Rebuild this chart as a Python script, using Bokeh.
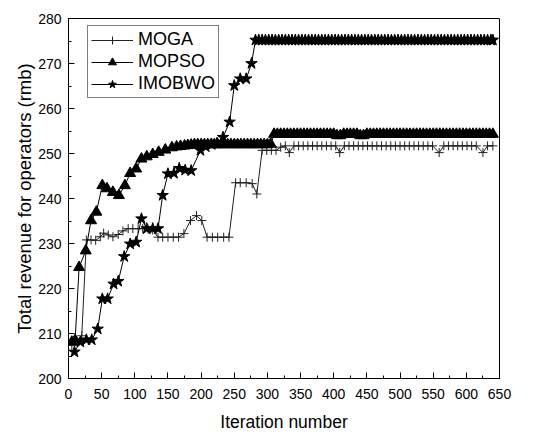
from bokeh.plotting import figure
from bokeh.models import SingleIntervalTicker, Range1d, Legend, LegendItem
from bokeh.embed import file_html
from bokeh.resources import INLINE

# ---------------- data ----------------
moga_x = [5, 12, 20, 27, 34, 41, 48, 53, 60, 67, 75, 82, 90, 97, 105, 112, 120, 127,
          135, 142, 150, 158, 166, 174, 184, 193, 201, 209, 217, 225, 234, 242,
          252, 259, 268, 277, 284, 292, 299, 306, 313, 320, 327, 333, 340, 347, 354,
          361, 368, 375, 382, 389, 396, 403, 409, 416, 423, 430, 437, 444, 451, 458,
          465, 472, 479, 486, 493, 500, 507, 514, 521, 528, 535, 542, 549, 559, 566,
          573, 580, 587, 594, 601, 608, 615, 625, 632, 640]
moga_y = [207.5, 208.5, 209.5, 230.8, 230.8, 230.7, 231.5, 232.3, 231.9, 231.5, 232.0,
          232.8, 233.3, 233.3, 233.3, 233.3, 233.2, 233.0,
          231.4, 231.4, 231.4, 231.4, 231.4, 232.2, 235.1, 236.2, 235.1, 231.4, 231.4,
          231.4, 231.4, 231.4,
          243.5, 243.5, 243.5, 243.3, 241.0, 250.7, 250.7, 250.7, 250.7, 251.4, 251.7,
          250.2, 251.7, 251.7, 251.7, 251.7, 251.7, 251.7, 251.7, 251.7, 251.7, 251.7,
          250.2, 251.7, 251.7, 251.7, 251.7, 251.7, 251.7, 251.7, 251.7, 251.7, 251.7,
          251.7, 251.7, 251.7, 251.7, 251.7, 251.7, 251.7, 251.7, 251.7, 251.7, 250.2,
          251.7, 251.7, 251.7, 251.7, 251.7, 251.7, 251.7, 251.7, 250.2, 251.7, 251.7]

mopso_x = [5, 10, 16, 26, 34, 42, 51, 58, 67, 76, 85, 93, 102, 110, 118, 127, 136, 146,
           156, 163, 169, 175, 180, 185, 190, 195, 200, 205, 210, 215, 220, 225, 230,
           235, 240, 245, 250, 255, 260, 265, 270, 275, 280, 285, 290, 295, 300, 305,
           310, 315, 320, 325, 330, 335, 340, 345, 350, 355, 360, 365, 370, 375, 380,
           385, 390, 395, 400, 405, 410, 415, 420, 425, 430, 435, 440, 445, 450, 455,
           460, 465, 470, 475, 480, 485, 490, 495, 500, 505, 510, 515, 520, 525, 530,
           535, 540, 545, 550, 555, 560, 565, 570, 575, 580, 585, 590, 595, 600, 605,
           610, 615, 620, 625, 630, 635, 640]
mopso_y = [208.1, 208.5, 224.7, 228.4, 235.1, 237.0, 242.9, 242.2, 241.4, 240.7, 242.9,
           245.6, 246.6, 248.8, 249.3, 249.8, 250.3, 250.8,
           251.3, 251.5, 251.6, 251.7, 251.8, 251.9, 252.0, 252.0, 252.0, 252.0, 252.0,
           252.0, 252.0, 252.0, 252.0, 252.0, 252.0, 252.0, 252.0, 252.0, 252.0, 252.0,
           252.0, 252.0, 252.0, 252.0, 252.0, 252.0, 252.0, 252.1,
           254.3, 254.3, 254.3, 254.3, 254.3, 254.3, 254.3, 254.3, 254.3, 254.3, 254.3,
           254.3, 254.3, 254.3, 254.3, 254.3, 254.3, 254.3, 254.3, 254.0, 254.0, 254.3,
           254.3, 254.3, 254.3, 254.3, 254.0, 254.0, 254.3, 254.3, 254.3, 254.3, 254.3,
           254.3, 254.3, 254.3, 254.3, 254.3, 254.3, 254.3, 254.3, 254.3, 254.3, 254.3,
           254.3, 254.3, 254.3, 254.3, 254.3, 254.3, 254.3, 254.3, 254.3, 254.3, 254.3,
           254.3, 254.3, 254.3, 254.3, 254.3, 254.3, 254.3, 254.3, 254.3, 254.3, 254.3,
           254.3]

imobwo_x = [9, 18, 27, 35, 44, 51, 59, 68, 75, 84, 93, 102, 110, 118, 127, 135, 142, 150,
            159, 167, 176, 185, 199, 207, 216, 224, 233, 243, 250, 259, 268, 276, 282,
            287, 292, 297, 302, 307, 312, 317, 322, 327, 332, 337, 342, 347, 352, 357,
            362, 367, 372, 377, 382, 387, 392, 397, 402, 407, 412, 417, 422, 427, 432,
            437, 442, 447, 452, 457, 462, 467, 472, 477, 482, 487, 492, 497, 502, 507,
            512, 517, 522, 527, 532, 537, 542, 547, 552, 557, 562, 567, 572, 577, 582,
            587, 592, 597, 602, 607, 612, 617, 622, 627, 632, 637, 640]
imobwo_y = [205.9, 208.1, 208.6, 208.6, 211.0, 217.7, 217.7, 221.0, 221.6, 227.1, 229.9,
            230.3, 235.5, 233.3, 233.3, 233.3, 240.7, 245.5, 245.6, 246.7, 246.3, 246.2,
            250.7, 251.5, 252.0, 252.3, 253.6, 257.0, 265.1, 266.6, 266.6, 270.0, 275.2,
            275.2, 275.2, 275.2, 275.2, 275.2, 275.2, 275.2, 275.2, 275.2, 275.2, 275.2,
            275.2, 275.2, 275.2, 275.2, 275.2, 275.2, 275.2, 275.2, 275.2, 275.2, 275.2,
            275.2, 275.2, 275.2, 275.2, 275.2, 275.2, 275.2, 275.2, 275.2, 275.2, 275.2,
            275.2, 275.2, 275.2, 275.2, 275.2, 275.2, 275.2, 275.2, 275.2, 275.2, 275.2,
            275.2, 275.2, 275.2, 275.2, 275.2, 275.2, 275.2, 275.2, 275.2, 275.2, 275.2,
            275.2, 275.2, 275.2, 275.2, 275.2, 275.2, 275.2, 275.2, 275.2, 275.2, 275.2,
            275.2, 275.2, 275.2, 275.2, 275.2, 275.2]

series_names = ["MOGA", "MOPSO", "IMOBWO"]
x_label = "Iteration number"
y_label = "Total revenue for operators (rmb)"

FONT = "Liberation Sans"

p = figure(frame_width=431, frame_height=360,
           min_border_left=68, min_border_right=24, min_border_top=18, min_border_bottom=52,
           x_range=Range1d(0, 650), y_range=Range1d(200, 280),
           output_backend="svg", toolbar_location=None)

p.background_fill_color = "white"
p.border_fill_color = "white"
p.outline_line_color = "black"
p.outline_line_width = 1
p.xgrid.visible = False
p.ygrid.visible = False

p.xaxis.ticker = SingleIntervalTicker(interval=50, num_minor_ticks=2)
p.yaxis.ticker = SingleIntervalTicker(interval=10, num_minor_ticks=2)
for ax in (p.xaxis[0], p.yaxis[0]):
    ax.axis_line_color = "black"
    ax.major_tick_in = 6
    ax.major_tick_out = 0
    ax.minor_tick_in = 3
    ax.minor_tick_out = 0
    ax.major_tick_line_color = "black"
    ax.minor_tick_line_color = "black"
    ax.major_label_text_font = FONT
    ax.major_label_text_font_size = "14px"
    ax.major_label_text_color = "black"
    ax.axis_label_text_font = FONT
    ax.axis_label_text_font_style = "normal"
    ax.axis_label_text_color = "black"

p.xaxis.axis_label = x_label
p.yaxis.axis_label = y_label
p.xaxis.axis_label_text_font_size = "17.5px"
p.yaxis.axis_label_text_font_size = "18.5px"
p.xaxis.major_label_standoff = 10
p.yaxis.major_label_standoff = 7
p.xaxis.axis_label_standoff = 10
p.yaxis.axis_label_standoff = 0

r1l = p.line(moga_x, moga_y, line_color="#222222", line_width=1)
r1m = p.scatter(moga_x, moga_y, marker="cross", size=9, line_color="#222222", line_width=1)
r2l = p.line(mopso_x, mopso_y, line_color="black", line_width=1)
r2m = p.scatter(mopso_x, mopso_y, marker="triangle", size=11, fill_color="black",
                line_color="black")
r3l = p.line(imobwo_x, imobwo_y, line_color="black", line_width=1)
r3m = p.scatter(imobwo_x, imobwo_y, marker="star", size=12, fill_color="black",
                line_color="black")

legend = Legend(items=[LegendItem(label=series_names[0], renderers=[r1l, r1m]),
                       LegendItem(label=series_names[1], renderers=[r2l, r2m]),
                       LegendItem(label=series_names[2], renderers=[r3l, r3m])],
                location=(19, 280))
legend.label_text_font = FONT
legend.label_text_font_size = "18px"
legend.label_text_color = "black"
legend.border_line_color = "black"
legend.border_line_width = 1
legend.background_fill_alpha = 1
legend.padding = 3
legend.spacing = 1
legend.margin = 0
legend.glyph_width = 42
legend.glyph_height = 20
legend.label_height = 20
legend.label_standoff = 5
p.add_layout(legend, "center")

open("out.html", "w").write(file_html(p, INLINE))
